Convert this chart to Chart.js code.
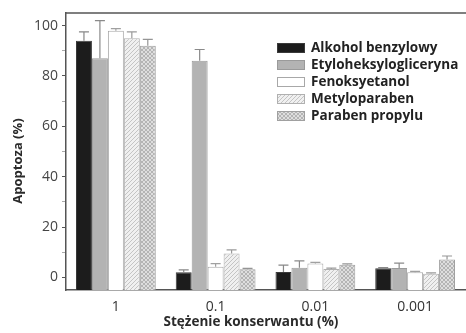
<!DOCTYPE html>
<html>
<head>
<meta charset="utf-8">
<script src="https://cdn.jsdelivr.net/npm/chart.js@4/dist/chart.umd.min.js"></script>
<style>
  html, body { margin: 0; padding: 0; background: #ffffff; }
  #wrap { width: 466px; height: 333px; position: relative; }
</style>
</head>
<body>
<div id="wrap"><canvas id="c" width="466" height="333"></canvas></div>
<script>
// ---- data ----
const categories = ['1', '0.1', '0.01', '0.001'];
const seriesNames = ['Alkohol benzylowy', 'Etyloheksylogliceryna', 'Fenoksyetanol', 'Metyloparaben', 'Paraben propylu'];
const alkohol = [94, 2, 2.1, 3.6];
const alkoholErr = [3.5, 1, 2.8, 0.3];
const etylo = [87, 86, 3.8, 3.7];
const etyloErr = [15, 4.5, 2.8, 2];
const feno = [98, 4.2, 5.5, 2];
const fenoErr = [0.8, 1.3, 0.5, 0.4];
const metyl = [95, 9.5, 3.3, 1.5];
const metylErr = [2.5, 1.4, 0.4, 0.3];
const propyl = [92, 3.2, 5, 7.1];
const propylErr = [2.5, 0.4, 0.4, 1.4];
const yTicks = [0, 20, 40, 60, 80, 100];

// ---- patterns ----
function pattern(bg, fg, cross) {
  const c = document.createElement('canvas');
  c.width = 4; c.height = 4;
  const x = c.getContext('2d');
  x.fillStyle = bg; x.fillRect(0, 0, 4, 4);
  x.strokeStyle = fg; x.lineWidth = 1;
  x.beginPath();
  x.moveTo(0, 4); x.lineTo(4, 0);
  x.moveTo(-1, 1); x.lineTo(1, -1);
  x.moveTo(3, 5); x.lineTo(5, 3);
  if (cross) {
    x.moveTo(0, 0); x.lineTo(4, 4);
    x.moveTo(-1, 3); x.lineTo(1, 5);
    x.moveTo(3, -1); x.lineTo(5, 1);
  }
  x.stroke();
  return document.getElementById('c').getContext('2d').createPattern(c, 'repeat');
}
const metylPat = pattern('#f0f0f0', '#c4c4c4', false);
const propylPat = pattern('#dedede', '#b4b4b4', true);

const values = [alkohol, etylo, feno, metyl, propyl];
const errors = [alkoholErr, etyloErr, fenoErr, metylErr, propylErr];
const fills = ['#1c1c1c', '#b3b3b3', '#ffffff', metylPat, propylPat];
const borders = ['#3a3a3a', '#9a9a9a', '#a8a8a8', '#b0b0b0', '#a0a0a0'];
const errColors = ['#888888', '#8a8a8a', '#a0a0a0', '#9a9a9a', '#959595'];

const datasets = values.map((v, i) => ({
  label: seriesNames[i],
  data: v,
  errors: errors[i],
  backgroundColor: fills[i],
  borderColor: borders[i],
  borderWidth: 1,
  base: -5,
  categoryPercentage: 0.8,
  barPercentage: 1.0
}));

const errorBarPlugin = {
  id: 'errorBars',
  afterDatasetsDraw(chart) {
    const ctx = chart.ctx;
    const y = chart.scales.y;
    chart.data.datasets.forEach((ds, di) => {
      const meta = chart.getDatasetMeta(di);
      meta.data.forEach((bar, i) => {
        const v = ds.data[i], e = ds.errors[i];
        const top = y.getPixelForValue(v + e);
        const base = y.getPixelForValue(v);
        const cx = bar.x;
        ctx.save();
        ctx.strokeStyle = errColors[di];
        ctx.lineWidth = 1.2;
        ctx.beginPath();
        ctx.moveTo(cx, base);
        ctx.lineTo(cx, top);
        ctx.moveTo(cx - 5, top);
        ctx.lineTo(cx + 5, top);
        ctx.stroke();
        ctx.restore();
      });
    });
  }
};

const framePlugin = {
  id: 'frame',
  afterDraw(chart) {
    const ctx = chart.ctx;
    const a = chart.chartArea;
    ctx.save();
    ctx.strokeStyle = '#555555';
    ctx.lineWidth = 1.5;
    ctx.beginPath();
    ctx.moveTo(a.left, a.top);
    ctx.lineTo(a.right + 2, a.top);
    ctx.stroke();
    // axis titles
    ctx.fillStyle = '#2a2a2a';
    ctx.font = 'bold 13.5px "Open Sans", sans-serif';
    ctx.textAlign = 'center';
    ctx.textBaseline = 'middle';
    ctx.fillText('Stężenie konserwantu (%)', 251, 322);
    ctx.font = 'bold 13px "Open Sans", sans-serif';
    ctx.translate(18, 161);
    ctx.rotate(-Math.PI / 2);
    ctx.fillText('Apoptoza (%)', 0, 0);
    ctx.restore();

    // legend
    ctx.save();
    const lx = 277, ly0 = 48, step = 17;
    ctx.font = 'bold 13.5px "Open Sans", sans-serif';
    ctx.textBaseline = 'middle';
    ctx.textAlign = 'left';
    chart.data.datasets.forEach((ds, i) => {
      const cy = ly0 + i * step;
      ctx.fillStyle = ds.backgroundColor;
      ctx.fillRect(lx, cy - 5, 28, 10);
      ctx.strokeStyle = ds.borderColor;
      ctx.lineWidth = 1;
      ctx.strokeRect(lx + 0.5, cy - 4.5, 27, 9);
      ctx.fillStyle = '#222222';
      ctx.fillText(ds.label, 311, cy);
    });
    ctx.restore();
  }
};

new Chart(document.getElementById('c'), {
  type: 'bar',
  data: { labels: categories, datasets: datasets },
  options: {
    responsive: false,
    animation: false,
    devicePixelRatio: 1,
    layout: { padding: { top: 13, right: 1, left: 0, bottom: 0 } },
    plugins: { legend: { display: false }, tooltip: { enabled: false } },
    scales: {
      x: {
        grid: { display: false },
        border: { display: true, color: '#555555', width: 1.5 },
        ticks: { color: '#333333', font: { family: 'Open Sans', size: 14 }, padding: 1 },
        afterFit(s) { s.height = 43; }
      },
      y: {
        min: -5,
        max: 105,
        afterBuildTicks(s) {
          const t = [];
          for (let v = 0; v <= 100; v += 10) t.push({ value: v });
          s.ticks = t;
        },
        grid: {
          drawOnChartArea: false,
          drawTicks: true,
          tickLength: 4,
          tickColor: (c) => (c.tick && c.tick.value % 20 === 0) ? '#555555' : '#aaaaaa',
          tickWidth: 1
        },
        border: { display: true, color: '#555555', width: 1.5 },
        ticks: {
          color: '#444444',
          font: { family: 'Open Sans', size: 14 },
          padding: 4,
          callback: (v) => (yTicks.includes(v) ? String(v) : '')
        },
        afterFit(s) { s.width = 66; }
      }
    }
  },
  plugins: [errorBarPlugin, framePlugin]
});
</script>
</body>
</html>
